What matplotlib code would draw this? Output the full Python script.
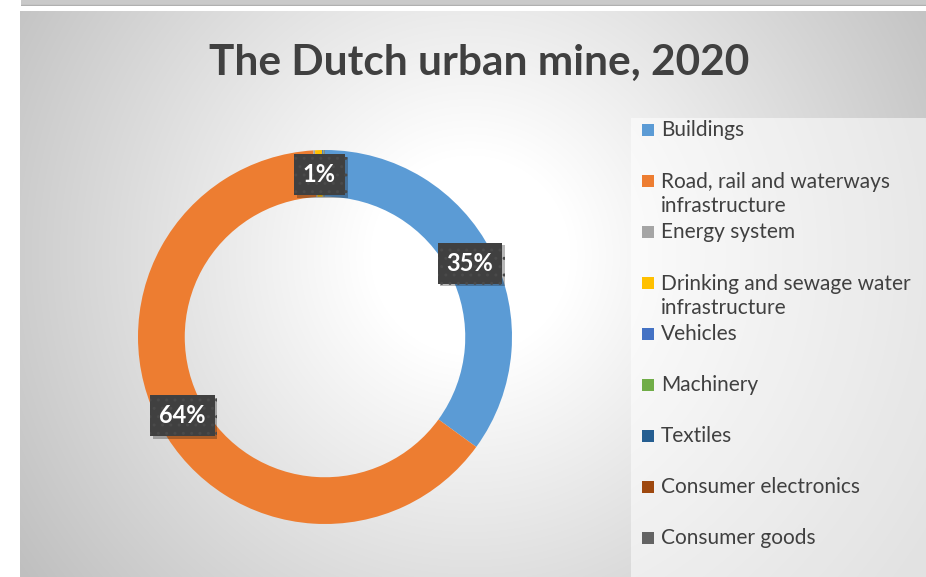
import numpy as np
import matplotlib
matplotlib.use("Agg")
import matplotlib.pyplot as plt
import matplotlib.patheffects as path_effects
from matplotlib.patches import Rectangle

# Material stock in the Dutch urban mine, share per sector (%)
sectors = ["Buildings", "Road, rail and waterways\ninfrastructure", "Energy system",
           "Drinking and sewage water\ninfrastructure", "Vehicles", "Machinery",
           "Textiles", "Consumer electronics", "Consumer goods"]
shares = [35.0, 64.0, 0.15, 0.6, 0.1, 0.05, 0.03, 0.02, 0.05]
colors = ["#5b9bd5", "#ed7d31", "#a5a5a5", "#ffc000", "#4472c4",
          "#70ad47", "#255e91", "#9e480e", "#636363"]

W, H = 926, 577
plt.rcParams['font.family'] = ['Lato', 'DejaVu Sans']

fig = plt.figure(figsize=(W / 100, H / 100), dpi=100)
fig.set_facecolor('white')

def px(x0, y0, x1, y1):
    # pixel box (top-left origin) -> figure fraction rect
    return [x0 / W, 1 - y1 / H, (x1 - x0) / W, (y1 - y0) / H]

# strip of the chart above
strip = fig.add_axes(px(21, 0, W, 6))
strip.axis('off')
strip.add_patch(Rectangle((0, 0), 1, 1, transform=strip.transAxes, color='#c9c9c9'))
strip.add_patch(Rectangle((0, 0), 1, 0.25, transform=strip.transAxes, color='#b0b0b0'))

# radial gradient chart area
bg = fig.add_axes(px(20, 11, W, H))
bg.axis('off')
gx, gy = np.meshgrid(np.arange(20, W), np.arange(11, H))
d = np.hypot(gx - 470, gy - 255)
t = np.clip((d - 100) / 450, 0, 1)
shade = 1 - 0.25 * t
img = np.dstack([shade, shade, shade])
bg.imshow(img, aspect='auto', extent=(0, 1, 0, 1), transform=bg.transAxes)
bg.set_xlim(0, 1)
bg.set_ylim(0, 1)

fig.text(479 / W, 1 - 63 / H, "The Dutch urban mine, 2020", ha='center', va='center',
         fontsize=30.5, fontweight='bold', color='#404040')

# donut
ax = fig.add_axes(px(138, 150, 512, 524))
wedges, _ = ax.pie(shares, colors=colors, startangle=90, counterclock=False, radius=1,
                   wedgeprops=dict(width=0.25, linewidth=0))
ax.set_xlim(-1, 1)
ax.set_ylim(-1, 1)
ax.set_aspect('equal')
ax.axis('off')

total = sum(shares)
cum = 0
for v in shares:
    mid = (cum + v / 2) / total * 2 * np.pi
    cum += v
    if round(v / total * 100) < 1:
        continue
    r = 0.87
    x, y = r * np.sin(mid), r * np.cos(mid)
    lbl = f"{v / total * 100:.0f}%"
    t_lbl = ax.text(x, y, lbl, ha='center', va='center', fontsize=17, fontweight='bold',
                    color='white',
                    bbox=dict(boxstyle='square,pad=0.38', facecolor='#404040', edgecolor='#4a4a4a',
                              hatch='..', linewidth=0))
    t_lbl.get_bbox_patch().set_path_effects(
        [path_effects.SimplePatchShadow(offset=(2, -2), alpha=0.3), path_effects.Normal()])

# legend
lg = fig.add_axes(px(631, 118, W, H))
lg.set_xlim(631, W)
lg.set_ylim(H, 118)
lg.axis('off')
lg.add_patch(Rectangle((631, 118), W - 631, H - 118, facecolor='white', alpha=0.55, edgecolor='none'))
for i, (name, c) in enumerate(zip(sectors, colors)):
    yy = 130 + 51 * i
    lg.add_patch(Rectangle((642, yy - 6), 12, 12, facecolor=c, edgecolor='none'))
    ty = yy + 13 if '\n' in name else yy
    lg.text(661, ty, name, ha='left', va='center', fontsize=15, color='#404040',
            linespacing=1.25)

fig.savefig("out.png", dpi=100, facecolor='white')
